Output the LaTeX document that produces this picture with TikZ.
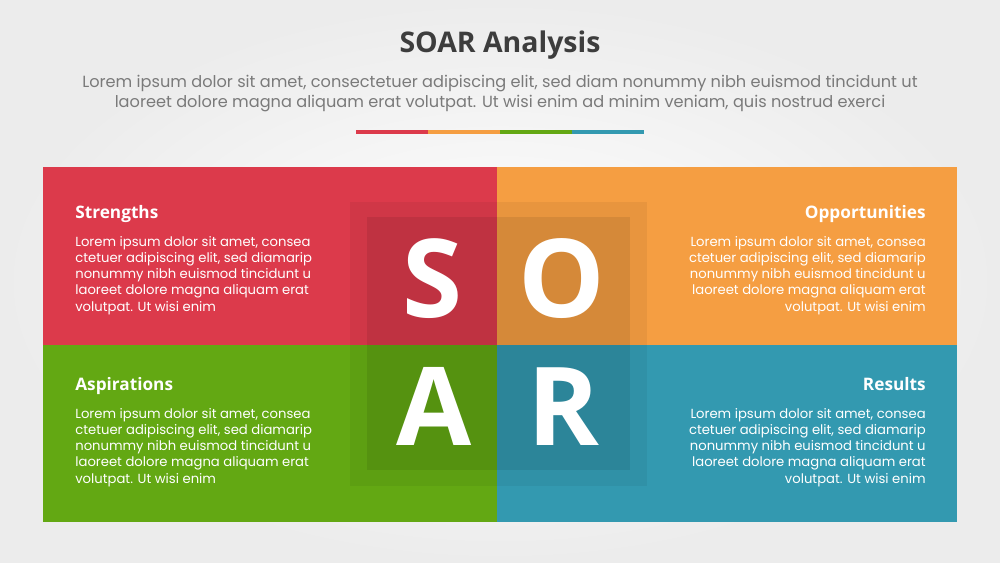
\documentclass[tikz,border=0pt]{standalone}
\usepackage{fontspec}
\setmainfont{Poppins}
\newfontfamily\headfont{Open Sans}
\usetikzlibrary{positioning}

\definecolor{soarred}{HTML}{DC3A4B}
\definecolor{soarorange}{HTML}{F59E42}
\definecolor{soargreen}{HTML}{63A813}
\definecolor{soarblue}{HTML}{3399B0}
\definecolor{titlegray}{HTML}{3D3D3D}
\definecolor{subgray}{HTML}{7A7A7A}

\tikzset{
  heading/.style={inner sep=0, text=white, font=\headfont\bfseries\fontsize{9.8}{12}\selectfont},
  bodytext/.style={inner sep=0, text=white, font=\fontsize{7.5}{9.2}\selectfont},
  letter/.style={inner sep=0, anchor=base, text=white, font=\headfont\bfseries\fontsize{62}{62}\selectfont}
}

\begin{document}
\begin{tikzpicture}[x=0.02cm,y=-0.02cm]
\useasboundingbox (0,0) rectangle (1000,563);
\shade[inner color=white, outer color={rgb,255:red,236;green,236;blue,236}] (0,0) rectangle (1000,563);

\node[inner sep=0, text=titlegray, font=\headfont\bfseries\fontsize{16.2}{18}\selectfont] (title) at (500,45) {SOAR Analysis};
\node[inner sep=0, text=subgray, align=center, font=\fontsize{9.2}{11.4}\selectfont] (subtitle) at (500,94)
  {Lorem ipsum dolor sit amet, consectetuer adipiscing elit, sed diam nonummy nibh euismod tincidunt ut\\
   laoreet dolore magna aliquam erat volutpat. Ut wisi enim ad minim veniam, quis nostrud exerci};

\draw[line width=2.3pt, soarred] (356,132) -- (428,132);
\draw[line width=2.3pt, soarorange] (428,132) -- (500,132);
\draw[line width=2.3pt, soargreen] (500,132) -- (572,132);
\draw[line width=2.3pt, soarblue] (572,132) -- (644,132);

\fill[soarred] (43,167) rectangle (497,345);
\fill[soarorange] (497,167) rectangle (957,345);
\fill[soargreen] (43,345) rectangle (497,522);
\fill[soarblue] (497,345) rectangle (957,522);

\fill[black, opacity=0.05] (350,202) rectangle (647,486);
\fill[black, opacity=0.08] (367,217) rectangle (630,470);

\node[letter] (s) at (432,318) {S};
\node[letter] (o) at (562,318) {O};
\node[letter] (a) at (434,445) {A};
\node[letter] (r) at (563,445) {R};

\node[heading, anchor=base west] (strengths) at (75,219) {Strengths};
\node[bodytext, anchor=north west, align=left] (strengthstext) at (75,236)
  {Lorem ipsum dolor sit amet, consea\\ctetuer adipiscing elit, sed diamarip\\nonummy nibh euismod tincidunt u\\laoreet dolore magna aliquam erat\\volutpat. Ut wisi enim};

\node[heading, anchor=base east] (opportunities) at (926,219) {Opportunities};
\node[bodytext, anchor=north east, align=right] (opportunitiestext) at (926,236)
  {Lorem ipsum dolor sit amet, consea\\ctetuer adipiscing elit, sed diamarip\\nonummy nibh euismod tincidunt u\\laoreet dolore magna aliquam erat\\volutpat. Ut wisi enim};

\node[heading, anchor=base west] (aspirations) at (75,391) {Aspirations};
\node[bodytext, anchor=north west, align=left] (aspirationstext) at (75,408)
  {Lorem ipsum dolor sit amet, consea\\ctetuer adipiscing elit, sed diamarip\\nonummy nibh euismod tincidunt u\\laoreet dolore magna aliquam erat\\volutpat. Ut wisi enim};

\node[heading, anchor=base east] (results) at (926,391) {Results};
\node[bodytext, anchor=north east, align=right] (resultstext) at (926,408)
  {Lorem ipsum dolor sit amet, consea\\ctetuer adipiscing elit, sed diamarip\\nonummy nibh euismod tincidunt u\\laoreet dolore magna aliquam erat\\volutpat. Ut wisi enim};
\end{tikzpicture}
\end{document}
